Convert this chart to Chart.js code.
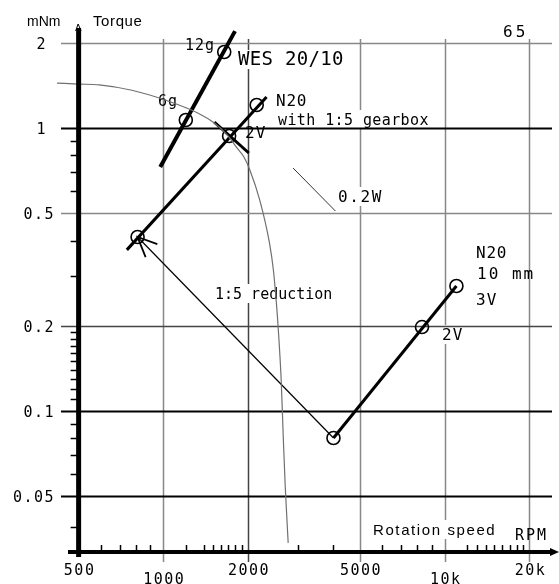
<!DOCTYPE html>
<html>
<head>
<meta charset="utf-8">
<script src="https://cdn.jsdelivr.net/npm/chart.js@4.4.0/dist/chart.umd.min.js"></script>
<style>
  html, body { margin: 0; padding: 0; background: #fff; }
  #wrap { width: 559px; height: 584px; position: relative; }
</style>
</head>
<body>
<div id="wrap"><canvas id="c"></canvas></div>
<script>
// values: rpm on x, torque in mNm on y (both log)
const curveRpm    = [419, 500, 592, 773, 1015, 1325, 1518, 1686, 1828, 1934, 2030, 2200, 2384, 2461, 2522, 2563, 2626, 2668, 2712, 2778];
const curveTorque = [1.44, 1.43, 1.42, 1.36, 1.256, 1.13, 1.041, 0.945, 0.85, 0.79, 0.711, 0.557, 0.392, 0.315, 0.241, 0.193, 0.1256, 0.0809, 0.0539, 0.0342];

const wesLineRpm = [975, 1798];
const wesLineTorque = [0.728, 2.20];
const wesPointRpm = [1202, 1646];        // 6g, 12g
const wesPointTorque = [1.067, 1.856];

const gearLineRpm = [742, 2327];
const gearLineTorque = [0.371, 1.287];
const gearPointRpm = [810, 1713, 2147];
const gearPointTorque = [0.412, 0.937, 1.206];
const crossRpm = [1518, 2013];
const crossTorque = [1.05, 0.816];
const rayRpm = [952, 810, 865];
const rayTorque = [0.389, 0.412, 0.350];

const reductionRpm = [810, 4024];
const reductionTorque = [0.412, 0.0803];

const powerRpm = [2891, 4088];          // 0.2W line
const powerTorque = [0.722, 0.509];

const n20LineRpm = [4024, 11005];
const n20LineTorque = [0.0803, 0.2765];
const n20PointRpm = [4024, 8304, 11005];
const n20PointTorque = [0.0803, 0.198, 0.2765];

const xTicks = [500, 1000, 2000, 5000, 10000, 20000];
const xTickLabels = ['500', '1000', '2000', '5000', '10k', '20k'];
const yTicks = [0.05, 0.1, 0.2, 0.5, 1, 2];
const yTickLabels = ['0.05', '0.1', '0.2', '0.5', '1', '2'];
const xMinor = [600, 700, 800, 900, 1200, 1400, 1500, 1600, 1700, 1800, 1900, 3000, 4000,
                6000, 7000, 8000, 9000, 12000, 13000, 14000, 15000, 16000, 17000, 18000, 19000];
const yMinor = [0.039, 0.06, 0.07, 0.08, 0.09, 0.11, 0.12, 0.13, 0.14, 0.15, 0.16, 0.17, 0.18, 0.19,
                0.3, 0.4, 0.6, 0.7, 0.8, 0.9];

const MONO = '"DejaVu Sans Mono", monospace';
const SANS = '"Liberation Sans", Arial, sans-serif';

// annotation texts (pixel placement, alphabetic baseline)
const notes = [
  { text: 'mNm', x: 27, y: 26, font: '14px ' + SANS },
  { text: 'Torque', x: 93, y: 26, font: '15px ' + SANS, ls: 0.6 },
  { text: '65', x: 503, y: 37, font: '16px ' + MONO, ls: 3 },
  { text: '12g', x: 185, y: 50, font: '15px ' + MONO, ls: 1 },
  { text: 'WES 20/10', x: 238, y: 65, font: '19px ' + MONO, ls: 0.3, knock: true },
  { text: '6g', x: 158, y: 106, font: '15px ' + MONO, ls: 1 },
  { text: 'N20', x: 276, y: 106, font: '16px ' + MONO, ls: 0.8, knock: true },
  { text: 'with 1:5 gearbox', x: 278, y: 125, font: '15px ' + MONO, ls: 0.4, knock: true },
  { text: '2V', x: 245, y: 138, font: '16px ' + MONO, ls: 1 },
  { text: '0.2W', x: 338, y: 202, font: '16px ' + MONO, ls: 1.6, knock: true },
  { text: '1:5 reduction', x: 215, y: 299, font: '15px ' + MONO, knock: true },
  { text: 'N20', x: 476, y: 258, font: '16px ' + MONO, ls: 0.8 },
  { text: '10 mm', x: 477, y: 279, font: '16px ' + MONO, ls: 2 },
  { text: '3V', x: 476, y: 305, font: '16px ' + MONO, ls: 1 },
  { text: '2V', x: 442, y: 340, font: '16px ' + MONO, ls: 1, knock: true },
  { text: 'Rotation speed', x: 373, y: 535, font: '15px ' + SANS, ls: 1.6, knock: true },
  { text: 'RPM', x: 515, y: 540, font: '15px ' + MONO, ls: 2 }
];

const pts = (xs, ys) => xs.map((x, i) => ({ x: x, y: ys[i] }));
const seg = (xs, ys, w, color) => ({
  data: pts(xs, ys), showLine: true, borderColor: color, borderWidth: w,
  pointRadius: 0, fill: false, borderCapStyle: 'butt'
});
const rings = (xs, ys) => ({
  data: pts(xs, ys), showLine: false, pointRadius: 6.5, pointBorderWidth: 1.6,
  pointBorderColor: '#000', pointBackgroundColor: 'rgba(0,0,0,0)', pointHoverRadius: 6.5
});

function setFont(ctx, n) {
  ctx.font = n.font;
  ctx.letterSpacing = (n.ls || 0) + 'px';
  ctx.textAlign = 'left';
  ctx.textBaseline = 'alphabetic';
}

const paperPlugin = {
  id: 'paper',
  beforeDraw(chart) {
    const ctx = chart.ctx;
    ctx.save();
    ctx.fillStyle = '#fff';
    ctx.fillRect(0, 0, chart.width, chart.height);
    ctx.restore();
  },
  beforeDatasetsDraw(chart) {
    const ctx = chart.ctx, xs = chart.scales.x, ys = chart.scales.y;
    const yb = ys.getPixelForValue(ys.min);
    ctx.save();
    // vertical grid
    xTicks.slice(1).forEach(v => {
      const x = Math.round(xs.getPixelForValue(v)) + 0.5;
      ctx.strokeStyle = v === 2000 ? '#444' : '#888';
      ctx.lineWidth = 1.5;
      ctx.beginPath(); ctx.moveTo(x, 39); ctx.lineTo(x, yb + 10); ctx.stroke();
    });
    // white boxes behind some labels
    notes.filter(n => n.knock).forEach(n => {
      setFont(ctx, n);
      const w = ctx.measureText(n.text).width;
      ctx.fillStyle = '#fff';
      ctx.fillRect(n.x - 3, n.y - 15, w + 5, 19);
    });
    // horizontal grid
    yTicks.forEach(v => {
      const y = Math.round(ys.getPixelForValue(v)) + 0.5;
      const dark = v === 1 || v === 0.1 || v === 0.05;
      ctx.strokeStyle = dark ? '#000' : (v === 0.2 ? '#444' : '#888');
      ctx.lineWidth = dark ? 2 : 1.5;
      ctx.beginPath(); ctx.moveTo(61, y); ctx.lineTo(552, y); ctx.stroke();
    });
    // texts
    ctx.fillStyle = '#000';
    notes.forEach(n => { setFont(ctx, n); ctx.fillText(n.text, n.x, n.y); });
    // tick labels
    ctx.font = '15px ' + MONO;
    ctx.letterSpacing = '1.5px';
    ctx.textBaseline = 'top';
    ctx.textAlign = 'center';
    xTicks.forEach((v, i) => {
      const lab = xTickLabels[i];
      const drop = lab.charAt(0) === '1' ? 9 : 0;
      ctx.fillText(lab, xs.getPixelForValue(v) + 1, 564 + drop);
    });
    ctx.textAlign = 'right';
    ctx.textBaseline = 'middle';
    yTicks.forEach((v, i) => {
      const lab = yTickLabels[i];
      ctx.fillText(lab, lab.length === 1 ? 47 : 55, ys.getPixelForValue(v) + 2);
    });
    ctx.restore();
  },
  afterDatasetsDraw(chart) {
    const ctx = chart.ctx, xs = chart.scales.x, ys = chart.scales.y;
    const x0 = xs.getPixelForValue(500), yb = ys.getPixelForValue(ys.min);
    ctx.save();
    ctx.strokeStyle = '#000';
    // minor ticks
    ctx.lineWidth = 1.5;
    xMinor.forEach(v => {
      const x = Math.round(xs.getPixelForValue(v)) + 0.5;
      ctx.beginPath(); ctx.moveTo(x, yb - 7); ctx.lineTo(x, yb); ctx.stroke();
    });
    yMinor.forEach(v => {
      const y = Math.round(ys.getPixelForValue(v)) + 0.5;
      ctx.beginPath(); ctx.moveTo(x0 - 8, y); ctx.lineTo(x0, y); ctx.stroke();
    });
    // axes
    ctx.lineWidth = 5;
    ctx.beginPath(); ctx.moveTo(x0, 28); ctx.lineTo(x0, yb + 5); ctx.stroke();
    ctx.lineWidth = 4;
    ctx.beginPath(); ctx.moveTo(68, yb); ctx.lineTo(552, yb); ctx.stroke();
    // arrow heads
    ctx.lineWidth = 1;
    ctx.beginPath(); ctx.moveTo(x0 - 3, 31); ctx.lineTo(x0 - 0.5, 24); ctx.lineTo(x0 + 2.5, 31); ctx.stroke();
    ctx.fillStyle = '#000';
    ctx.beginPath(); ctx.moveTo(550, yb - 4); ctx.lineTo(559, yb); ctx.lineTo(550, yb + 4); ctx.closePath(); ctx.fill();
    ctx.restore();
  }
};

new Chart(document.getElementById('c'), {
  type: 'scatter',
  data: {
    datasets: [
      Object.assign(seg(curveRpm, curveTorque, 1.2, '#707070'), { cubicInterpolationMode: 'monotone' }),
      seg(reductionRpm, reductionTorque, 1.2, '#000'),
      seg(powerRpm, powerTorque, 1, '#333'),
      seg(rayRpm, rayTorque, 1.8, '#000'),
      seg(wesLineRpm, wesLineTorque, 4, '#000'),
      seg(gearLineRpm, gearLineTorque, 3, '#000'),
      seg(crossRpm, crossTorque, 3, '#000'),
      seg(n20LineRpm, n20LineTorque, 3, '#000'),
      rings(wesPointRpm, wesPointTorque),
      rings(gearPointRpm, gearPointTorque),
      rings(n20PointRpm, n20PointTorque)
    ]
  },
  options: {
    responsive: true,
    maintainAspectRatio: false,
    animation: false,
    events: [],
    layout: { padding: { left: 57, right: 0, top: 28, bottom: 32 } },
    plugins: { legend: { display: false }, tooltip: { enabled: false } },
    scales: {
      x: { type: 'logarithmic', min: 418.9, max: 23843, bounds: 'data', display: false },
      y: { type: 'logarithmic', min: 0.03176, max: 2.2561, bounds: 'data', display: false }
    }
  },
  plugins: [paperPlugin]
});
</script>
</body>
</html>
